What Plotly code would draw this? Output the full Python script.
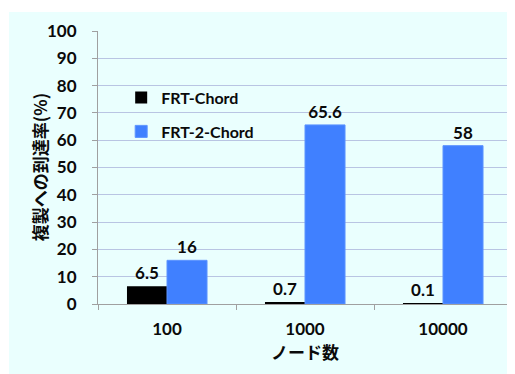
import plotly.graph_objects as go

categories = ["100", "1000", "10000"]
frt_chord = [6.5, 0.7, 0.1]
frt2_chord = [16, 65.6, 58]
frt_chord_labels = ["6.5", "0.7", "0.1"]
frt2_chord_labels = ["16", "65.6", "58"]
y_ticks = list(range(0, 101, 10))

FONT = "Lato"
JP = "Noto Sans CJK JP"
TXT = "#0A0A0A"

fig = go.Figure()
fig.add_trace(go.Bar(
    x=categories, y=frt_chord, name="FRT-Chord",
    marker=dict(color="#000000", line=dict(width=0)),
    text=frt_chord_labels, textposition="outside", cliponaxis=False,
    textfont=dict(family=FONT, size=17, color=TXT, weight="bold"),
    legendgroup="a",
))
fig.add_trace(go.Bar(
    x=categories, y=frt2_chord, name="FRT-2-Chord",
    marker=dict(color="#4080FF", line=dict(width=1, color="#5C94FF")),
    text=frt2_chord_labels, textposition="outside", cliponaxis=False,
    textfont=dict(family=FONT, size=17, color=TXT, weight="bold"),
    legendgroup="b",
))

fig.update_layout(
    width=515, height=374,
    margin=dict(l=90, r=11, t=23, b=78, autoexpand=False),
    paper_bgcolor="white",
    plot_bgcolor="rgba(0,0,0,0)",
    barmode="group",
    bargap=0.42,
    bargroupgap=0,
    font=dict(family=FONT, size=17, color=TXT),
    showlegend=True,
    legend=dict(
        x=0.056, y=0.818, xanchor="left", yanchor="top",
        bgcolor="rgba(0,0,0,0)",
        font=dict(family=FONT, size=16, color=TXT, weight="bold"),
        traceorder="grouped", tracegroupgap=10,
        itemwidth=30,
    ),
    xaxis=dict(
        type="category", automargin=False,
        showline=True, linecolor="#A0A0A0", linewidth=1,
        ticks="outside", ticklen=5, tickcolor="#A0A0A0", tickson="boundaries",
        tickfont=dict(family=FONT, size=17, color=TXT, weight="bold"),
        ticklabelstandoff=10,
        title=dict(text="ノード数", font=dict(family=JP, size=17, color=TXT, weight="bold"), standoff=7),
        showgrid=False,
    ),
    yaxis=dict(
        range=[0, 100], automargin=False,
        tickvals=y_ticks,
        showline=True, linecolor="#A0A0A0", linewidth=1,
        ticks="outside", ticklen=5, tickcolor="#A0A0A0",
        showgrid=True, gridcolor="#B9C5E3", gridwidth=1,
        tickfont=dict(family=FONT, size=17, color=TXT, weight="bold"),
        ticklabelstandoff=12,
        zeroline=False,
    ),
    annotations=[dict(
        text="複製への到達率(%)", textangle=-90,
        xref="paper", yref="paper", x=-0.141, y=0.5,
        xanchor="center", yanchor="middle", showarrow=False,
        font=dict(family=JP, size=17, color=TXT, weight="bold"),
    )],
    shapes=[dict(
        type="rect", xref="paper", yref="paper",
        x0=-0.215, x1=1.05, y0=-0.3, y1=1.0696,
        fillcolor="#EAFFFE", line=dict(width=0), layer="below",
    )],
)

fig.write_html("out.html")
